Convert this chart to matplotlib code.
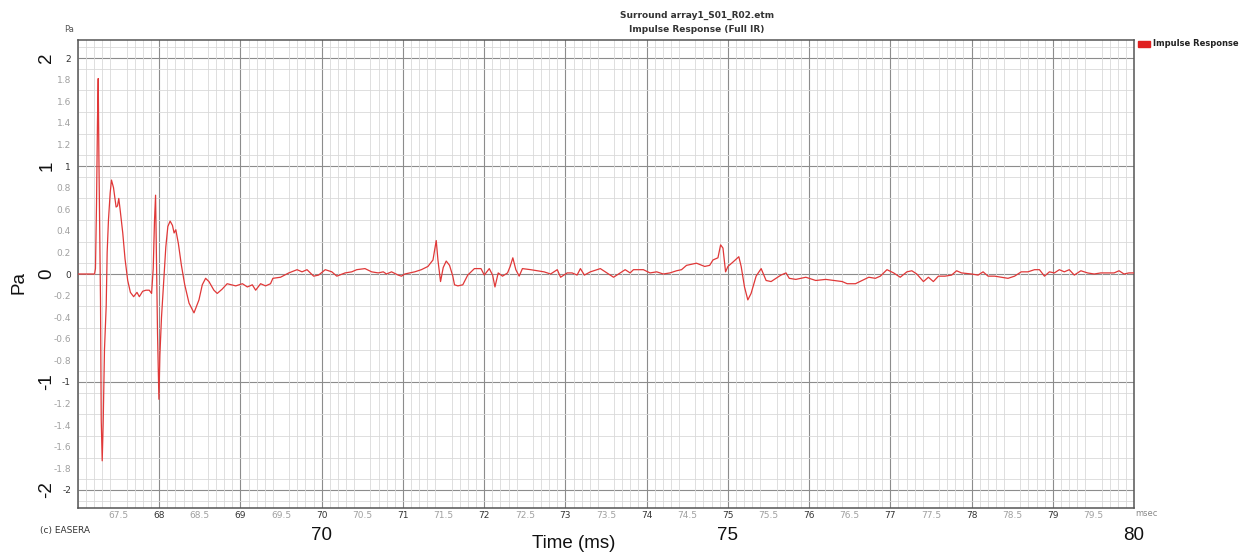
import numpy as np
import matplotlib
matplotlib.use("Agg")
import matplotlib.pyplot as plt
from matplotlib.patches import Rectangle
from matplotlib.transforms import blended_transform_factory

plt.rcParams['axes.unicode_minus'] = False

# impulse response trace (time in ms, pressure in Pa)
time_ms = [
    67.000, 67.204, 67.215, 67.228, 67.240, 67.249, 67.257, 67.277, 67.286, 67.298,
    67.310, 67.326, 67.347, 67.359, 67.375, 67.396, 67.412, 67.437, 67.469, 67.486,
    67.502, 67.518, 67.551, 67.579, 67.612, 67.645, 67.685, 67.726, 67.755, 67.796,
    67.836, 67.877, 67.906, 67.926, 67.942, 67.955, 67.967, 67.979, 67.996, 68.008,
    68.028, 68.053, 68.081, 68.106, 68.134, 68.163, 68.183, 68.204, 68.236, 68.273,
    68.314, 68.367, 68.428, 68.489, 68.530, 68.571, 68.612, 68.673, 68.714, 68.775,
    68.836, 68.942, 69.024, 69.085, 69.146, 69.187, 69.248, 69.309, 69.370, 69.399,
    69.493, 69.595, 69.697, 69.758, 69.819, 69.901, 69.962, 70.044, 70.125, 70.186,
    70.288, 70.370, 70.431, 70.533, 70.615, 70.696, 70.758, 70.798, 70.860, 70.941,
    70.982, 71.023, 71.145, 71.227, 71.308, 71.370, 71.410, 71.431, 71.463, 71.496,
    71.533, 71.574, 71.614, 71.635, 71.676, 71.737, 71.798, 71.880, 71.961, 72.002,
    72.063, 72.104, 72.133, 72.173, 72.226, 72.288, 72.320, 72.353, 72.390, 72.431,
    72.471, 72.573, 72.655, 72.737, 72.818, 72.900, 72.941, 73.022, 73.083, 73.144,
    73.185, 73.234, 73.308, 73.389, 73.430, 73.512, 73.593, 73.675, 73.736, 73.797,
    73.838, 73.920, 73.960, 74.042, 74.124, 74.205, 74.287, 74.369, 74.430, 74.491,
    74.614, 74.715, 74.776, 74.817, 74.878, 74.911, 74.940, 74.972, 75.001, 75.062,
    75.135, 75.164, 75.205, 75.246, 75.286, 75.348, 75.410, 75.471, 75.532, 75.593,
    75.654, 75.716, 75.756, 75.837, 75.960, 76.001, 76.082, 76.205, 76.307, 76.408,
    76.469, 76.571, 76.653, 76.735, 76.816, 76.877, 76.959, 77.041, 77.122, 77.204,
    77.265, 77.326, 77.408, 77.469, 77.530, 77.592, 77.673, 77.755, 77.816, 77.877,
    77.999, 78.081, 78.142, 78.204, 78.285, 78.367, 78.449, 78.530, 78.612, 78.694,
    78.775, 78.836, 78.898, 78.959, 79.020, 79.081, 79.142, 79.203, 79.265, 79.346,
    79.428, 79.510, 79.591, 79.673, 79.755, 79.816, 79.877, 79.938, 80.000,
]
pressure_pa = [
    0.00, 0.00, 0.05, 0.65, 1.43, 1.81, 1.10, -0.25, -1.35, -1.73,
    -1.38, -0.70, -0.30, 0.20, 0.50, 0.75, 0.87, 0.80, 0.62, 0.63,
    0.70, 0.60, 0.38, 0.14, -0.06, -0.17, -0.21, -0.17, -0.21, -0.16,
    -0.15, -0.15, -0.18, 0.05, 0.50, 0.73, 0.10, -0.55, -1.16, -0.75,
    -0.40, -0.10, 0.25, 0.44, 0.49, 0.45, 0.38, 0.41, 0.28, 0.08,
    -0.10, -0.27, -0.36, -0.24, -0.10, -0.04, -0.07, -0.15, -0.18, -0.14,
    -0.09, -0.11, -0.09, -0.12, -0.10, -0.15, -0.09, -0.11, -0.09, -0.04,
    -0.03, 0.01, 0.04, 0.02, 0.04, -0.02, -0.01, 0.04, 0.02, -0.02,
    0.01, 0.02, 0.04, 0.05, 0.02, 0.01, 0.02, 0.00, 0.02, -0.01,
    -0.02, 0.00, 0.02, 0.04, 0.07, 0.13, 0.31, 0.13, -0.07, 0.06,
    0.12, 0.08, -0.02, -0.10, -0.11, -0.10, -0.01, 0.05, 0.05, -0.01,
    0.05, -0.01, -0.12, 0.01, -0.02, 0.01, 0.07, 0.15, 0.04, -0.02,
    0.05, 0.04, 0.03, 0.02, 0.00, 0.04, -0.03, 0.01, 0.01, -0.01,
    0.05, -0.01, 0.02, 0.04, 0.05, 0.01, -0.03, 0.01, 0.04, 0.01,
    0.04, 0.04, 0.04, 0.01, 0.02, 0.00, 0.01, 0.03, 0.04, 0.08,
    0.10, 0.07, 0.08, 0.13, 0.15, 0.27, 0.24, 0.02, 0.07, 0.11,
    0.16, 0.07, -0.12, -0.24, -0.18, -0.02, 0.05, -0.06, -0.07, -0.04,
    -0.01, 0.01, -0.04, -0.05, -0.03, -0.04, -0.06, -0.05, -0.06, -0.07,
    -0.09, -0.09, -0.06, -0.03, -0.04, -0.02, 0.04, 0.01, -0.03, 0.02,
    0.03, 0.00, -0.07, -0.03, -0.07, -0.02, -0.02, -0.01, 0.03, 0.01,
    0.00, -0.01, 0.02, -0.02, -0.02, -0.03, -0.04, -0.02, 0.02, 0.02,
    0.04, 0.04, -0.02, 0.02, 0.01, 0.04, 0.02, 0.04, -0.01, 0.03,
    0.01, 0.00, 0.01, 0.01, 0.01, 0.03, 0.00, 0.01, 0.01,
]

x_ticks = np.arange(67.5, 80.0, 0.5)
y_ticks = np.round(np.arange(-2.0, 2.01, 0.2), 1) + 0.0
big_x_labels = [70, 75, 80]
big_y_labels = [2, 1, 0, -1, -2]

W, H = 1241, 557
fig = plt.figure(figsize=(W / 100, H / 100), dpi=100)
ax = fig.add_axes([78 / W, 1 - 508 / H, (1134 - 78) / W, (508 - 40) / H])

ax.plot(time_ms, pressure_pa, color='#e03838', lw=0.9, zorder=3)

ax.set_xlim(67.0, 80.0)
ax.set_ylim(-2.167, 2.167)

# light grid every 0.1, darker grid every 1
ax.set_xticks(np.arange(67.0, 80.01, 0.1), minor=True)
ax.set_yticks(np.arange(-2.1, 2.11, 0.1), minor=True)
ax.grid(which='minor', color='#d9d9d9', lw=0.6)
for v in range(68, 80):
    ax.axvline(v, color='#8c8c8c', lw=0.8, zorder=1)
for v in range(-2, 3):
    ax.axhline(v, color='#8c8c8c', lw=0.8, zorder=1)

ax.set_xticks(x_ticks, ['%g' % t for t in x_ticks])
ax.set_yticks(y_ticks, ['%g' % t for t in y_ticks])
ax.tick_params(which='both', length=0)
ax.tick_params(axis='x', pad=2, labelsize=6.5)
ax.tick_params(axis='y', pad=5, labelsize=6.5)
for lab, t in zip(ax.get_xticklabels(), x_ticks):
    lab.set_color('#333333' if float(t).is_integer() else '#a0a0a0')
for lab, t in zip(ax.get_yticklabels(), y_ticks):
    lab.set_color('#333333' if float(t).is_integer() else '#a0a0a0')

for s in ax.spines.values():
    s.set_color('#555555')
    s.set_linewidth(1.1)

# small EASERA texts
fig.text(69 / W, 1 - 29 / H, 'Pa', fontsize=6, color='#555555', ha='center', va='center')
fig.text(697 / W, 1 - 15 / H, 'Surround array1_S01_R02.etm', fontsize=6.5,
         fontweight='bold', color='#333333', ha='center', va='center')
fig.text(697 / W, 1 - 30 / H, 'Impulse Response (Full IR)', fontsize=6.5,
         fontweight='bold', color='#333333', ha='center', va='center')
fig.patches.append(Rectangle((1138 / W, 1 - 47 / H), 12 / W, 6 / H,
                             transform=fig.transFigure, color='#e02020'))
fig.text(1153 / W, 1 - 44 / H, 'Impulse Response', fontsize=6, fontweight='bold',
         color='#222222', ha='left', va='center')
fig.text(40 / W, 1 - 530 / H, '(c) EASERA', fontsize=6.5, color='#333333',
         ha='left', va='center')
fig.text(1135 / W, 1 - 514 / H, 'msec', fontsize=6, color='#888888',
         ha='left', va='center')

# big overlay labels
big = dict(family='Liberation Sans', fontsize=13.5, color='#111111')
tx = blended_transform_factory(ax.transData, fig.transFigure)
for v in big_x_labels:
    ax.text(v, 1 - 536 / H, str(v), transform=tx, ha='center', va='center', **big)
ty = blended_transform_factory(fig.transFigure, ax.transData)
for v in big_y_labels:
    ax.text(47 / W, v, str(v), transform=ty, rotation=90, ha='center', va='center', **big)
fig.text(574 / W, 1 - 544 / H, 'Time (ms)', ha='center', va='center', **big)
fig.text(19 / W, 1 - 283 / H, 'Pa', rotation=90, ha='center', va='center', **big)

fig.savefig('out.png', dpi=100)
